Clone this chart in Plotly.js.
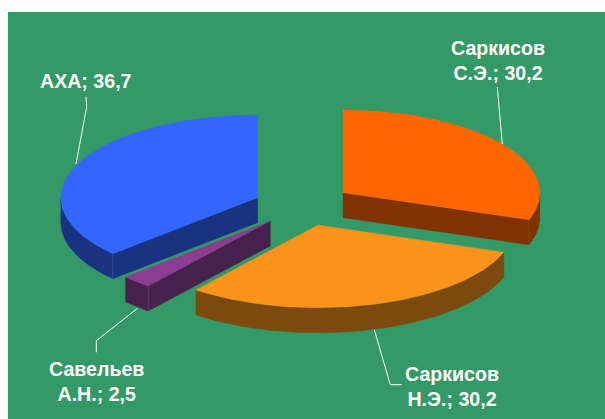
<!DOCTYPE html>
<html>
<head>
<meta charset="utf-8">
<script src="https://cdn.plot.ly/plotly-3.0.1.min.js"></script>
<style>html,body{margin:0;padding:0;background:#fff}</style>
</head>
<body>
<div id="chart" style="width:605px;height:419px"></div>
<script>
// Data (in pie order, clockwise from 12 o'clock)
const categories = ["Саркисов<br>С.Э.", "Саркисов<br>Н.Э.", "Савельев<br>А.Н.", "АХА"];
const values = [30.2, 30.2, 2.5, 36.7];

// Pie styling and projection
const topColors = ["#FF6600", "#F9931A", "#8B3D92", "#3366FF"];
const wallColors = ["#803300", "#7C4A0D", "#47214D", "#193380"];
const seamColors = ["#6f5a20", "#7C4A0D", "#5f4a70", "#3f5a90"];
const centersX = [343, 317.9, 270.3, 257.7];
const centersY = [192.7, 225, 221, 197.7];
const radiusX = 196.9, radiusY = 82.8, depth = 25;
const labelX = [497.5, 451.7, 96.5, 86];
const labelY = [60, 386, 381, 81];
const leadersX = [[497.3, 502.3], [374.3, 390.3, 402], [137.5, 96.3, 96.3], [86, 86.7, 76]];
const leadersY = [[87, 144], [329.7, 384.7, 384.7], [308.3, 340.7, 352.3], [96.7, 106.7, 164]];

const total = values.reduce((a, b) => a + b, 0);
const rad = d => d * Math.PI / 180;
const px = (c, a) => c + radiusX * Math.sin(rad(a));
const py = (c, a) => c - radiusY * Math.cos(rad(a));

function arc(cx, cy, a0, a1) {
  const n = Math.max(2, Math.ceil(Math.abs(a1 - a0)));
  const xs = [], ys = [];
  for (let i = 0; i <= n; i++) {
    const a = a0 + (a1 - a0) * i / n;
    xs.push(px(cx, a)); ys.push(py(cy, a));
  }
  return [xs, ys];
}
function poly(xs, ys, color, line) {
  return {
    type: "scatter", mode: "lines", x: xs, y: ys, fill: "toself", fillcolor: color,
    line: {color: line || color, width: 0.3}, hoverinfo: "skip", showlegend: false
  };
}
function wallRect(cx, cy, a, color) {
  const x0 = cx, y0 = cy, x1 = px(cx, a), y1 = py(cy, a);
  return poly([x0, x1, x1, x0, x0], [y0, y1, y1 + depth, y0 + depth, y0], color);
}

const traces = [];
const drawOrder = [3, 0, 1, 2];
const bounds = [];
let run = 0;
values.forEach(v => { const a0 = run; run += v / total * 360; bounds.push([a0, run]); });

drawOrder.forEach(i => {
  const [a0, a1] = bounds[i];
  const cx = centersX[i], cy = centersY[i];
  // radial walls facing the viewer
  if (a1 < 180) traces.push(wallRect(cx, cy, a1, wallColors[i]));
  if (a0 > 180) traces.push(wallRect(cx, cy, a0, wallColors[i]));
  // outer rim: only the front half of the ellipse
  const s = Math.max(a0, 90), e = Math.min(a1, 270);
  if (e > s) {
    const [xs, ys] = arc(cx, cy, s, e);
    const rx = xs.slice().reverse(), ry = ys.map(y => y + depth).reverse();
    traces.push(poly(xs.concat(rx, [xs[0]]), ys.concat(ry, [ys[0]]), wallColors[i]));
  }
  // seam where radial wall meets rim
  const seamA = a1 < 180 ? a1 : (a0 > 180 ? a0 : null);
  if (seamA !== null) {
    traces.push({type: "scatter", mode: "lines",
      x: [px(cx, seamA), px(cx, seamA)], y: [py(cy, seamA), py(cy, seamA) + depth],
      line: {color: seamColors[i], width: 0.7}, hoverinfo: "skip", showlegend: false});
  }
  // top face
  const [tx, ty] = arc(cx, cy, a0, a1);
  traces.push(poly([cx].concat(tx, [cx]), [cy].concat(ty, [cy]), topColors[i]));
});

// Leader lines
leadersX.forEach((xs, i) => traces.push({
  type: "scatter", mode: "lines", x: xs, y: leadersY[i],
  line: {color: "#ffffff", width: 1}, hoverinfo: "skip", showlegend: false
}));

const annotations = categories.map((c, i) => ({
  xref: "x", yref: "y", x: labelX[i], y: labelY[i], showarrow: false,
  xanchor: "center", yanchor: "middle", align: "center",
  text: "<b>" + c + "; " + String(values[i]).replace(".", ",") + "</b>",
  font: {family: "Liberation Sans, Arial, sans-serif", size: 19.6, color: "#ffffff"}
}));

const layout = {
  width: 605, height: 419,
  margin: {l: 8, r: 0, t: 12, b: 0, pad: 0},
  paper_bgcolor: "#ffffff", plot_bgcolor: "#339966",
  showlegend: false,
  xaxis: {range: [8, 605], visible: false, fixedrange: true},
  yaxis: {range: [419, 12], visible: false, fixedrange: true},
  annotations: annotations
};
Plotly.newPlot("chart", traces, layout, {displayModeBar: false, staticPlot: true});
</script>
</body>
</html>
